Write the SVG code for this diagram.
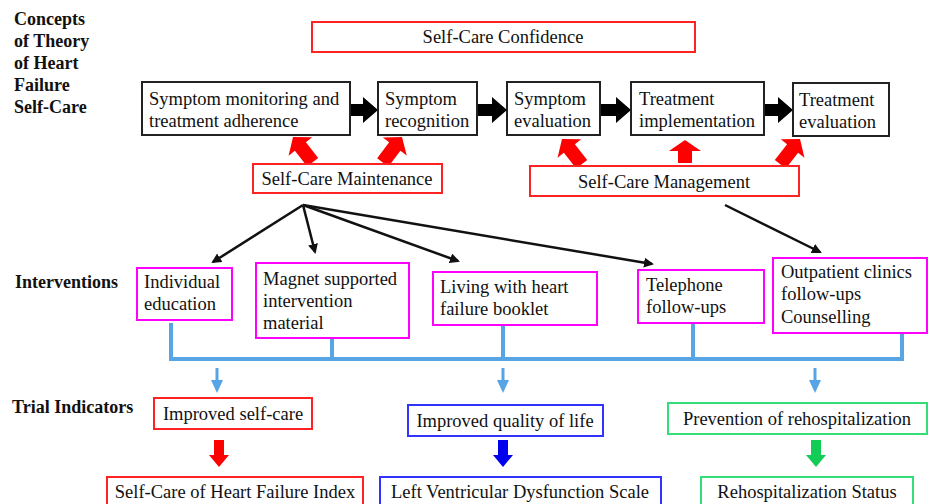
<svg xmlns="http://www.w3.org/2000/svg" width="929" height="504" viewBox="0 0 929 504">
<style>
text{font-family:"Liberation Serif","Times New Roman",serif;font-size:18.5px;fill:#111}
.lbl{font-weight:bold;font-size:18px}
.c{text-anchor:middle}
.bk{fill:#fff;stroke:#222;stroke-width:2}
.rd{fill:#fff;stroke:#f22;stroke-width:2}
.mg{fill:#fff;stroke:#f0f;stroke-width:2}
.bl{fill:#fff;stroke:#33f;stroke-width:2}
.gr{fill:#fff;stroke:#3d7;stroke-width:2}
.thin{stroke:#111;stroke-width:2.5;fill:none;marker-end:url(#ah)}
.brk{stroke:#58a5e6;stroke-width:4;fill:none;stroke-linecap:square}
</style>
<defs>
<marker id="ah" viewBox="0 0 10 10" refX="8" refY="5" markerWidth="4" markerHeight="4" orient="auto" markerUnits="strokeWidth">
<path d="M0,0 L10,5 L0,10 Z" fill="#111"/>
</marker>
<polygon id="rarr" points="0,-6 15,-6 15,-13 30,0 15,13 15,6 0,6"/>
<polygon id="upd" points="0,0 15,12 7,12 7,32 -7,32 -7,12 -15,12"/>
<polygon id="upv" points="0,0 16,11 7,11 7,23 -7,23 -7,11 -16,11"/>
<polygon id="down" points="-5,0 5,0 5,15 10,15 0,27 -10,15 -5,15"/>
<g id="sdown"><line x1="0" y1="0" x2="0" y2="14" stroke="#58a5e6" stroke-width="3"/><polygon points="-6,12 6,12 0,25" fill="#58a5e6"/></g>
</defs>

<g id="labels">
<text class="lbl" x="14" y="25">Concepts</text>
<text class="lbl" x="14" y="47">of Theory</text>
<text class="lbl" x="14" y="69">of Heart</text>
<text class="lbl" x="14" y="91">Failure</text>
<text class="lbl" x="14" y="113">Self-Care</text>
<text class="lbl" x="15" y="288">Interventions</text>
<text class="lbl" x="12" y="413">Trial Indicators</text>
</g>

<g id="connectors">
<use href="#rarr" x="348" y="110" fill="#000"/>
<use href="#rarr" x="477" y="110" fill="#000"/>
<use href="#rarr" x="601" y="110" fill="#000"/>
<use href="#rarr" x="763" y="110" fill="#000"/>
<use href="#upd" transform="translate(293,137) rotate(-38)" fill="#f00"/>
<use href="#upd" transform="translate(402,137) rotate(37)" fill="#f00"/>
<use href="#upd" transform="translate(562,139) rotate(-38)" fill="#f00"/>
<use href="#upv" transform="translate(685,140)" fill="#f00"/>
<use href="#upd" transform="translate(800,139) rotate(38)" fill="#f00"/>
<line class="thin" x1="303" y1="205" x2="213" y2="262"/>
<line class="thin" x1="303" y1="205" x2="315" y2="252"/>
<line class="thin" x1="303" y1="205" x2="458" y2="261"/>
<line class="thin" x1="303" y1="205" x2="652" y2="264"/>
<line class="thin" x1="725" y1="205" x2="820" y2="252"/>
<path class="brk" d="M171,325 V359 H902 V334 M332,339 V359 M503,326 V359 M693,324 V359"/>
<use href="#sdown" x="217" y="368"/>
<use href="#sdown" x="503" y="368"/>
<use href="#sdown" x="815" y="368"/>
<use href="#down" x="219" y="440" fill="#f00"/>
<use href="#down" x="503" y="440" fill="#00e"/>
<use href="#down" x="816" y="440" fill="#1c5"/>
</g>

<g id="confidence"><rect class="rd" x="312" y="22" width="383" height="30"/><text class="c" x="503" y="43">Self-Care Confidence</text></g>
<g id="monitoring"><rect class="bk" x="142" y="82" width="208" height="53"/><text x="149" y="105">Symptom monitoring and</text><text x="149" y="127">treatment adherence</text></g>
<g id="recognition"><rect class="bk" x="378" y="82" width="99" height="53"/><text x="385" y="105">Symptom</text><text x="385" y="127">recognition</text></g>
<g id="evaluation"><rect class="bk" x="507" y="82" width="93" height="53"/><text x="514" y="105">Symptom</text><text x="514" y="127">evaluation</text></g>
<g id="implementation"><rect class="bk" x="631" y="82" width="133" height="53"/><text x="639" y="105">Treatment</text><text x="639" y="127">implementation</text></g>
<g id="treval"><rect class="bk" x="793" y="83" width="96" height="53"/><text x="799" y="106">Treatment</text><text x="799" y="128">evaluation</text></g>
<g id="maintenance"><rect class="rd" x="253" y="164" width="189" height="29"/><text class="c" x="347" y="185">Self-Care Maintenance</text></g>
<g id="management"><rect class="rd" x="530" y="166" width="269" height="30"/><text class="c" x="664" y="188">Self-Care Management</text></g>

<g id="individual"><rect class="mg" x="137" y="268" width="95" height="52"/><text x="144" y="288">Individual</text><text x="144" y="310">education</text></g>
<g id="magnet"><rect class="mg" x="256" y="263" width="153" height="75"/><text x="263" y="285">Magnet supported</text><text x="263" y="307">intervention</text><text x="263" y="329">material</text></g>
<g id="booklet"><rect class="mg" x="433" y="272" width="164" height="53"/><text x="440" y="293">Living with heart</text><text x="440" y="315">failure booklet</text></g>
<g id="telephone"><rect class="mg" x="638" y="270" width="126" height="53"/><text x="646" y="291">Telephone</text><text x="646" y="313">follow-ups</text></g>
<g id="outpatient"><rect class="mg" x="773" y="258" width="154" height="75"/><text x="781" y="278">Outpatient clinics</text><text x="781" y="300">follow-ups</text><text x="781" y="323">Counselling</text></g>

<g id="selfcare"><rect class="rd" x="154" y="398" width="158" height="31"/><text class="c" x="233" y="420">Improved self-care</text></g>
<g id="quality"><rect class="bl" x="408" y="405" width="195" height="31"/><text class="c" x="505" y="427">Improved quality of life</text></g>
<g id="prevention"><rect class="gr" x="668" y="403" width="259" height="31"/><text class="c" x="797" y="425">Prevention of rehospitalization</text></g>
<g id="index"><rect class="rd" x="107" y="477" width="256" height="34"/><text class="c" x="235" y="498">Self-Care of Heart Failure Index</text></g>
<g id="lvds"><rect class="bl" x="380" y="477" width="281" height="34"/><text class="c" x="520" y="498">Left Ventricular Dysfunction Scale</text></g>
<g id="rehosp"><rect class="gr" x="701" y="477" width="212" height="34"/><text class="c" x="807" y="498">Rehospitalization Status</text></g>
</svg>
